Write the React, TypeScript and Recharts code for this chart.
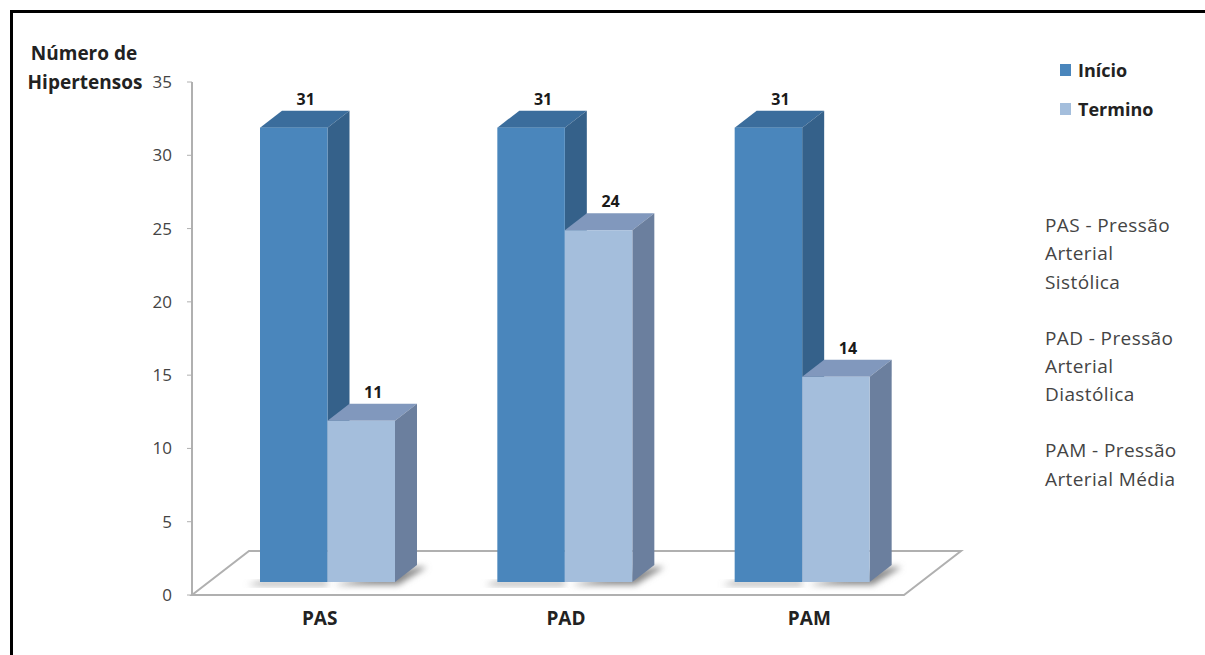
import { Bar, BarChart, LabelList, Legend, XAxis, YAxis, usePlotArea } from "recharts";

const categories = ["PAS", "PAD", "PAM"];
const inicio = [31, 31, 31];
const termino = [11, 24, 14];
const yTicks = [0, 5, 10, 15, 20, 25, 30, 35];
const legendNames = ["Início", "Termino"];
const notes = [
  { text: "PAS - Pressão", top: 225 },
  { text: "Arterial", top: 253 },
  { text: "Sistólica", top: 282 },
  { text: "PAD - Pressão", top: 338 },
  { text: "Arterial", top: 366 },
  { text: "Diastólica", top: 394 },
  { text: "PAM - Pressão", top: 450 },
  { text: "Arterial Média", top: 479 },
];

const rows = categories.map((name, i) => ({ name, inicio: inicio[i], termino: termino[i] }));

const FONT = "'Open Sans', sans-serif";
// the fake 3d look: bars sit on the floor, up and right of the axis origin
const SHIFT_X = 17;
const SHIFT_Y = 13;
const DEPTH_X = 22;
const DEPTH_Y = 17;
const FLOOR_X = 57;
const FLOOR_Y = 44;
const tickNudge = [9, 18, 24];

const blue = { front: "#4a86bc", top: "#3b6d9c", side: "#35618a" };
const light = { front: "#a4bedc", top: "#8198bd", side: "#6b7f9e" };

function Floor() {
  const plot = usePlotArea();
  if (!plot) return null;
  const left = plot.x;
  const right = plot.x + plot.width;
  const bottom = plot.y + plot.height;
  const points = [
    [left, bottom],
    [right, bottom],
    [right + FLOOR_X, bottom - FLOOR_Y],
    [left + FLOOR_X, bottom - FLOOR_Y],
  ];
  return (
    <g>
      <defs>
        <filter id="soft" x="-30%" y="-100%" width="160%" height="300%">
          <feGaussianBlur stdDeviation="3" />
        </filter>
      </defs>
      <polygon points={points.map((p) => p.join(",")).join(" ")} fill="#fff" stroke="#b0b0b0" strokeWidth={2} />
    </g>
  );
}

function Box3D(props: any) {
  const { height, width, colors, isLeft } = props;
  const x = props.x + SHIFT_X;
  const y = props.y - SHIFT_Y;
  const r = x + width;
  const base = y + height;
  const shadow = isLeft
    ? `${x - 13},${base + 3} ${r},${base + 3} ${r},${base} ${x},${base}`
    : `${x + 6},${base + 3} ${r + 3},${base + 3} ${r + DEPTH_X + 10},${base - DEPTH_Y + 2} ${r + DEPTH_X},${base - DEPTH_Y + 2}`;
  return (
    <g>
      <polygon points={shadow} fill="#8a8a8a" filter="url(#soft)" />
      <polygon
        points={`${x},${y} ${x + DEPTH_X},${y - DEPTH_Y} ${r + DEPTH_X},${y - DEPTH_Y} ${r},${y}`}
        fill={colors.top}
      />
      <polygon
        points={`${r},${y} ${r + DEPTH_X},${y - DEPTH_Y} ${r + DEPTH_X},${base - DEPTH_Y} ${r},${base}`}
        fill={colors.side}
      />
      <rect x={x} y={y} width={width} height={height} fill={colors.front} />
    </g>
  );
}

function ValueLabel(props: any) {
  const { x, y, width, value } = props;
  return (
    <text
      x={x + SHIFT_X + (width + DEPTH_X) / 2 + 1}
      y={y - SHIFT_Y - DEPTH_Y - 6}
      textAnchor="middle"
      fontFamily={FONT}
      fontWeight={700}
      fontSize={16}
      fill="#1a1a1a"
    >
      {value}
    </text>
  );
}

function CategoryTick(props: any) {
  const { x, y, payload, index } = props;
  return (
    <text x={x + tickNudge[index]} y={y + 28} dy={-6} textAnchor="middle" fontFamily={FONT} fontWeight={700} fontSize={19} fill="#222">
      {payload.value}
    </text>
  );
}

function LegendBox() {
  const colors = [blue.front, light.front];
  return (
    <div style={{ fontFamily: FONT, fontWeight: 700, fontSize: 18, color: "#222" }}>
      {legendNames.map((name, i) => (
        <div key={name} style={{ position: "absolute", left: 0, top: i * 39, display: "flex", alignItems: "center", height: 24 }}>
          <span style={{ width: 11, height: 12, background: colors[i], marginRight: 7 }} />
          {name}
        </div>
      ))}
    </div>
  );
}

export default function App() {
  return (
    <div style={{ position: "absolute", left: 0, top: 0, width: 1205, height: 655, background: "#fff", overflow: "hidden" }}>
      <div style={{ position: "absolute", left: 10, top: 10, right: -5, bottom: -5, borderLeft: "3px solid #000", borderTop: "3px solid #000" }} />
      <div style={{ position: "absolute", left: 0, top: 0 }}>
        <BarChart
          width={1205}
          height={655}
          data={rows}
          margin={{ top: 82, right: 301, bottom: 20, left: 132 }}
          barSize={67.5}
          barGap={0}
        >
          <Floor />
          <XAxis dataKey="name" height={40} axisLine={false} tickLine={false} tick={<CategoryTick />} />
          <YAxis
            width={60}
            domain={[0, 35]}
            ticks={yTicks}
            interval={0}
            axisLine={{ stroke: "#b0b0b0", strokeWidth: 2 }}
            tickLine={{ stroke: "#b0b0b0" }}
            tickSize={5}
            tickMargin={15}
            tick={{ fontFamily: FONT, fontSize: 17, fill: "#444" }}
          />
          <Legend
            content={<LegendBox />}
            wrapperStyle={{ position: "absolute", left: 1060, top: 58, width: 140, height: 0 }}
          />
          <Bar dataKey="inicio" isAnimationActive={false} shape={(p: any) => <Box3D {...p} colors={blue} isLeft />}>
            <LabelList dataKey="inicio" content={<ValueLabel />} />
          </Bar>
          <Bar dataKey="termino" isAnimationActive={false} shape={(p: any) => <Box3D {...p} colors={light} />}>
            <LabelList dataKey="termino" content={<ValueLabel />} />
          </Bar>
        </BarChart>
      </div>
      <div style={{ position: "absolute", left: 0, top: 0, fontFamily: FONT, fontWeight: 700, fontSize: 19, color: "#222" }}>
        <div style={{ position: "absolute", left: 0, width: 168, textAlign: "center", top: 40 }}>Número de</div>
        <div style={{ position: "absolute", left: 0, width: 170, textAlign: "center", top: 69 }}>Hipertensos</div>
      </div>
      {notes.map((n) => (
        <div key={n.top} style={{ position: "absolute", left: 1045, top: n.top - 13, fontFamily: FONT, fontSize: 19, letterSpacing: 0.4, color: "#444", whiteSpace: "nowrap" }}>
          {n.text}
        </div>
      ))}
    </div>
  );
}
